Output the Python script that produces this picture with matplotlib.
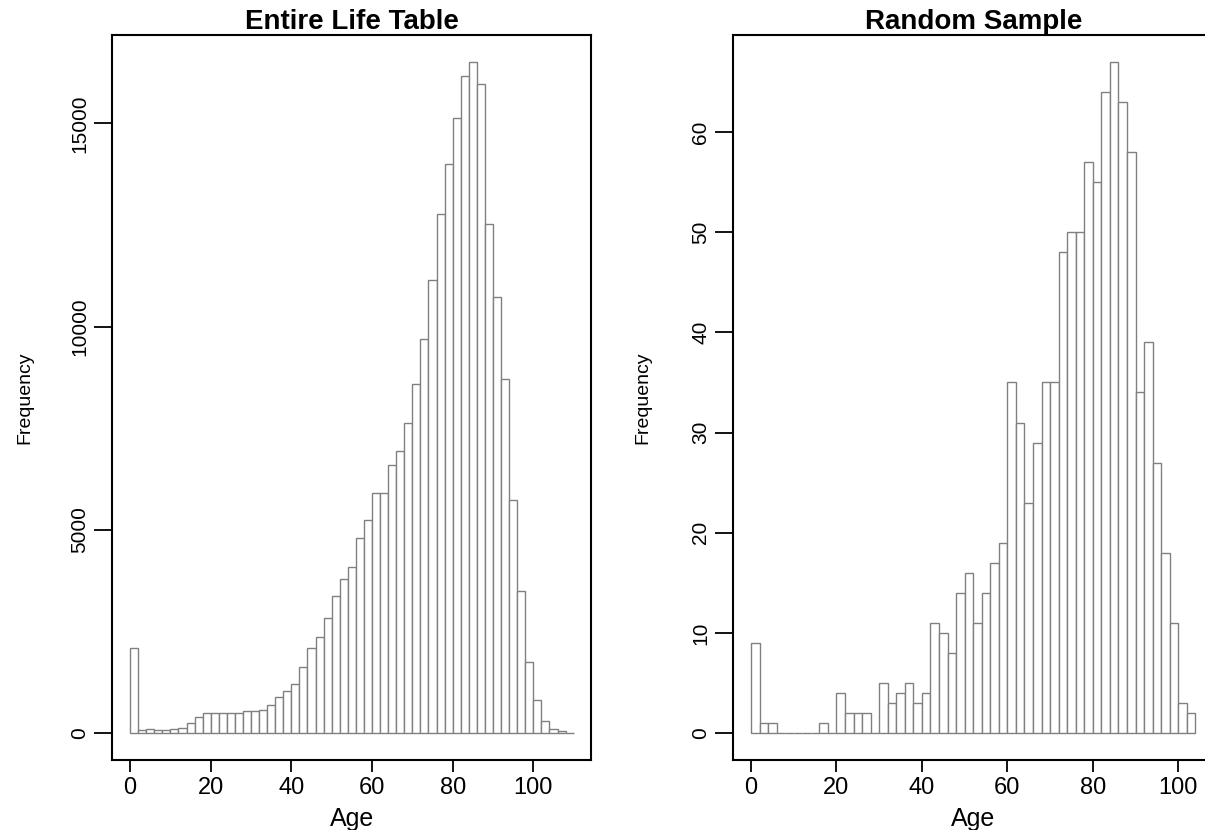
import numpy as np
import matplotlib
matplotlib.use("Agg")
import matplotlib.pyplot as plt

plt.rcParams["font.family"] = ["Liberation Sans", "DejaVu Sans"]

# bin counts, 2-year bins starting at age 0
life_table_counts = [2090, 90, 100, 70, 70, 100, 140, 262, 410, 508,
                     500, 500, 508, 492, 558, 541, 582, 705, 886, 1050,
                     1205, 1640, 2090, 2378, 2837, 3370, 3789, 4084, 4813, 5248,
                     5920, 5900, 6600, 6954, 7643, 8593, 9707, 11149, 12764, 14002,
                     15142, 16158, 16519, 15961, 12518, 10740, 8723, 5730, 3492, 1746,
                     811, 311, 98, 49, 20]
sample_counts = [9, 1, 1, 0, 0, 0, 0, 0, 1, 0,
                 4, 2, 2, 2, 0, 5, 3, 4, 5, 3,
                 4, 11, 10, 8, 14, 16, 11, 14, 17, 19,
                 35, 31, 23, 29, 35, 35, 48, 50, 50, 57,
                 55, 64, 67, 63, 58, 34, 39, 27, 18, 11,
                 3, 2]
bin_width = 2
x_ticks = [0, 20, 40, 60, 80, 100]
life_yticks = [0, 5000, 10000, 15000]
sample_yticks = [0, 10, 20, 30, 40, 50, 60]

W, H = 1205, 830
fig = plt.figure(figsize=(W / 100, H / 100), dpi=100)


def px_axes(x0, x1, y0, y1):
    # axes rect from pixel coords (top-left origin)
    return fig.add_axes([x0 / W, 1 - y1 / H, (x1 - x0) / W, (y1 - y0) / H])


def draw_hist(ax, counts, title, yticks):
    counts = np.asarray(counts)
    edges = np.arange(len(counts) + 1) * bin_width
    ax.bar(edges[:-1], counts, width=bin_width, align="edge",
           facecolor="white", edgecolor="#808080", linewidth=1.0)
    span = edges[-1] - edges[0]
    ax.set_xlim(edges[0] - 0.04 * span, edges[-1] + 0.04 * span)
    ymax = counts.max()
    ax.set_ylim(-0.04 * ymax, 1.04 * ymax)
    ax.set_xticks(x_ticks)
    ax.set_yticks(yticks)
    for s in ax.spines.values():
        s.set_linewidth(1.5)
        s.set_color("black")
    ax.tick_params(axis="x", length=8.5, width=1.3, pad=3.5, labelsize=17, direction="out")
    ax.tick_params(axis="y", length=13, width=1.3, pad=3.5, labelsize=15,
                   direction="out", labelrotation=90)
    for lab in ax.get_yticklabels():
        lab.set_va("center")
    ax.set_title(title, fontsize=20, fontweight="bold", pad=1)
    ax.set_xlabel("Age", fontsize=18)
    ax.set_ylabel("Frequency", fontsize=14)
    ax.xaxis.label.set_va("center")
    ax.yaxis.label.set_va("center")


ax1 = px_axes(112.3, 591.4, 34.8, 760.2)
draw_hist(ax1, life_table_counts, "Entire Life Table", life_yticks)
ax1.xaxis.set_label_coords(0.5, -59 / 725.4)
ax1.yaxis.set_label_coords(-87 / 479.1, 0.5)

ax2 = px_axes(733.2, 1213.2, 34.8, 760.2)
draw_hist(ax2, sample_counts, "Random Sample", sample_yticks)
ax2.xaxis.set_label_coords(0.5, -59 / 725.4)
ax2.yaxis.set_label_coords(-90 / 480.0, 0.5)

fig.savefig("out.png", dpi=100)
